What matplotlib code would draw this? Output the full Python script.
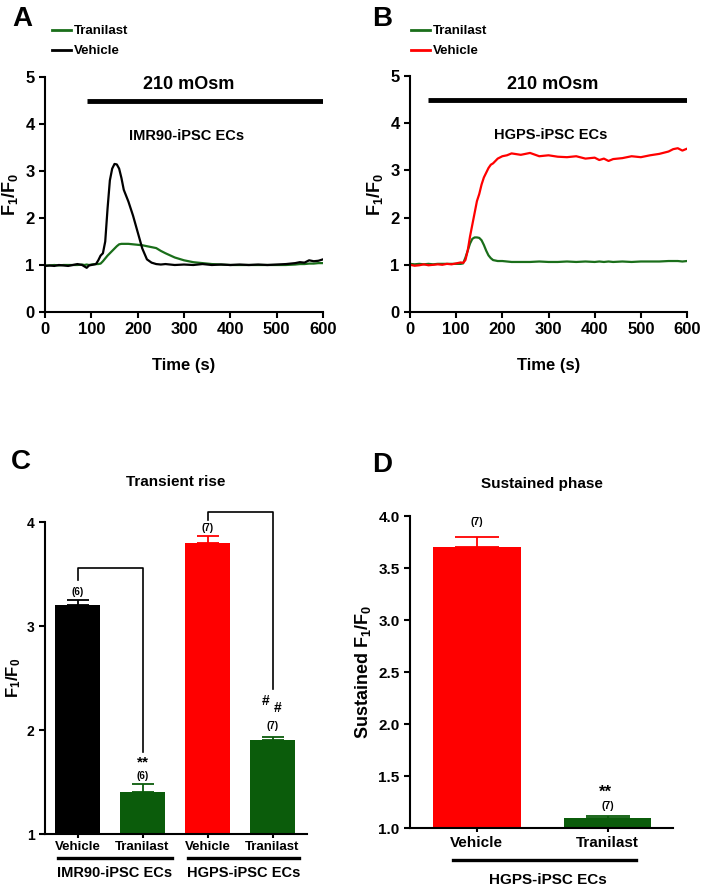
import matplotlib
matplotlib.use("Agg")
import matplotlib.pyplot as plt
import numpy as np

plt.rcParams["font.family"] = ["Liberation Sans", "DejaVu Sans"]
plt.rcParams["font.weight"] = "bold"
plt.rcParams["axes.labelweight"] = "bold"
plt.rcParams["axes.titleweight"] = "bold"
plt.rcParams["mathtext.fontset"] = "custom"
plt.rcParams["mathtext.rm"] = "Liberation Sans:bold"
plt.rcParams["mathtext.bf"] = "Liberation Sans:bold"
plt.rcParams["mathtext.default"] = "bf"

GREEN = "#1a6e1a"
DKGREEN = "#0b5c0b"
RED = "#ff0000"

# ---------------- Panel A traces (IMR90-iPSC ECs) ----------------
time_a = [0, 10, 20, 30, 40, 50, 60, 70, 80, 85, 90, 95, 100, 110, 115, 120, 125, 130,
          135, 140, 145, 150, 155, 160, 165, 170, 180, 190, 200, 210, 220, 230, 240,
          250, 260, 280, 300, 320, 340, 360, 380, 400, 420, 440, 460, 480, 500, 520,
          540, 550, 560, 570, 580, 590, 600]
vehicle_a = [0.98, 0.99, 0.98, 1.0, 0.99, 0.98, 1.0, 1.02, 1.0, 0.97, 0.94, 0.99, 1.0,
             1.02, 1.1, 1.2, 1.25, 1.5, 2.2, 2.8, 3.05, 3.15, 3.14, 3.05, 2.85, 2.6,
             2.35, 2.05, 1.7, 1.35, 1.12, 1.05, 1.02, 1.01, 1.02, 1.0, 1.01, 1.0, 1.02,
             1.0, 1.01, 1.0, 1.01, 1.0, 1.01, 1.0, 1.01, 1.02, 1.04, 1.06, 1.05, 1.1,
             1.08, 1.09, 1.12]
tranilast_a = [0.99, 0.99, 1.0, 0.99, 1.0, 1.0, 1.0, 1.0, 1.01, 1.0, 1.01, 1.0, 1.01,
               1.02, 1.02, 1.03, 1.08, 1.14, 1.2, 1.25, 1.3, 1.35, 1.4, 1.44, 1.45,
               1.45, 1.45, 1.44, 1.43, 1.42, 1.4, 1.38, 1.36, 1.3, 1.25, 1.16, 1.1, 1.06,
               1.04, 1.02, 1.01, 1.0, 1.0, 1.0, 1.0, 1.0, 1.0, 1.0, 1.01, 1.02, 1.02,
               1.03, 1.03, 1.04, 1.04]

# ---------------- Panel B traces (HGPS-iPSC ECs) ----------------
time_b = [0, 10, 20, 30, 40, 50, 60, 70, 80, 90, 100, 110, 115, 120, 125, 130, 135,
          140, 145, 150, 155, 160, 165, 170, 175, 180, 190, 200, 210, 220, 240, 260,
          280, 300, 320, 340, 360, 380, 400, 410, 420, 430, 440, 460, 480, 500, 520,
          540, 560, 570, 580, 590, 600]
vehicle_b = [1.0, 0.98, 0.99, 1.01, 0.99, 1.0, 1.01, 1.0, 1.02, 1.01, 1.03, 1.05, 1.04,
             1.1, 1.3, 1.6, 1.85, 2.1, 2.35, 2.5, 2.7, 2.85, 2.95, 3.05, 3.12, 3.15,
             3.25, 3.3, 3.32, 3.36, 3.33, 3.37, 3.3, 3.32, 3.29, 3.28, 3.3, 3.25, 3.27,
             3.22, 3.25, 3.2, 3.24, 3.26, 3.3, 3.28, 3.32, 3.35, 3.4, 3.45, 3.47, 3.42,
             3.46]
tranilast_b = [1.02, 1.01, 1.02, 1.01, 1.02, 1.01, 1.02, 1.02, 1.02, 1.02, 1.02, 1.02,
               1.03, 1.15, 1.3, 1.45, 1.55, 1.58, 1.58, 1.57, 1.52, 1.42, 1.3, 1.2,
               1.14, 1.1, 1.08, 1.08, 1.07, 1.06, 1.06, 1.06, 1.07, 1.06, 1.06, 1.07,
               1.06, 1.07, 1.06, 1.07, 1.06, 1.07, 1.06, 1.07, 1.06, 1.07, 1.07, 1.07,
               1.08, 1.08, 1.08, 1.07, 1.08]

# ---------------- Panel C bars ----------------
c_labels = ["Vehicle", "Tranilast", "Vehicle", "Tranilast"]
c_values = [3.2, 1.4, 3.8, 1.9]
c_errors = [0.05, 0.08, 0.07, 0.03]
c_n = ["(6)", "(6)", "(7)", "(7)"]
c_groups = ["IMR90-iPSC ECs", "HGPS-iPSC ECs"]

# ---------------- Panel D bars ----------------
d_labels = ["Vehicle", "Tranilast"]
d_values = [3.7, 1.1]
d_errors = [0.1, 0.02]
d_n = ["(7)", "(7)"]

W, H = 705, 889
fig = plt.figure(figsize=(W / 100, H / 100), dpi=100)


def px(x, y):
    # pixel position (from top-left) -> figure fraction
    return x / W, 1 - y / H


def style_axes(ax, lw=1.5):
    for s in ["top", "right"]:
        ax.spines[s].set_visible(False)
    for s in ["left", "bottom"]:
        ax.spines[s].set_linewidth(lw)
    ax.tick_params(direction="out", width=lw, length=4)


def trace_panel(rect, t, veh, tra, veh_color, cell, bar_start, leg_x):
    ax = fig.add_axes(rect)
    ax.plot(t, tra, color=GREEN, lw=1.6, label="Tranilast")
    ax.plot(t, veh, color=veh_color, lw=1.6, label="Vehicle")
    ax.set_xlim(0, 600)
    ax.set_ylim(0, 5)
    ax.set_xticks(range(0, 601, 100))
    ax.set_yticks(range(0, 6))
    style_axes(ax)
    ax.tick_params(labelsize=12)
    ax.set_xlabel("Time (s)", fontsize=12, labelpad=15)
    ax.set_ylabel("F$_1$/F$_0$", fontsize=13, labelpad=4)
    ax.plot([bar_start, 600], [4.5, 4.5], color="black", lw=3.5, solid_capstyle="butt")
    ax.text(310, 4.83, "210 mOsm", ha="center", va="center", fontsize=13)
    ax.text(305, 3.75, cell, ha="center", va="center", fontsize=10.5)
    leg = ax.legend(loc="upper left", bbox_to_anchor=px(leg_x, 25),
                    bbox_transform=fig.transFigure, frameon=False,
                    handlelength=1.45, handletextpad=0.2, labelspacing=0.6,
                    borderpad=0, borderaxespad=0, prop={"size": 9.5, "weight": "bold"})
    for line in leg.get_lines():
        line.set_linewidth(2)
    return ax


trace_panel([45 / W, 1 - 312 / H, 278 / W, 235 / H], time_a, vehicle_a, tranilast_a,
            "black", "IMR90-iPSC ECs", 90, 52)
trace_panel([410 / W, 1 - 312 / H, 277 / W, 236 / H], time_b, vehicle_b, tranilast_b,
            RED, "HGPS-iPSC ECs", 40, 411)

# ---------------- Panel C ----------------
axc = fig.add_axes([45 / W, 1 - 834 / H, 262 / W, 312 / H])
xc = np.arange(len(c_values))
c_colors = ["black", DKGREEN, RED, DKGREEN]
axc.bar(xc, np.array(c_values) - 1, bottom=1, width=0.69, color=c_colors)
for x, v, e, col in zip(xc, c_values, c_errors, c_colors):
    axc.errorbar(x, v, yerr=[[0], [e]], color=col, capsize=8, capthick=1.3, lw=1.3)
axc.set_xlim(-0.5, 3.53)
axc.set_ylim(1, 4)
axc.set_yticks([1, 2, 3, 4])
style_axes(axc, lw=1.5)
axc.set_xticks(xc)
axc.set_xticklabels(c_labels, fontsize=9.5)
axc.tick_params(axis="y", labelsize=10)
axc.tick_params(axis="x", length=3, pad=2)
axc.set_ylabel("F$_1$/F$_0$", fontsize=12, labelpad=3)
axc.set_title("Transient rise", fontsize=11, pad=26)
n_y = [3.33, 1.56, 3.94, 2.04]
for x, t, y in zip(xc, c_n, n_y):
    axc.text(x, y, t, ha="center", va="center", fontsize=7)
# significance brackets
axc.plot([0, 0, 1, 1], [3.44, 3.56, 3.56, 1.79], color="black", lw=1.2, clip_on=False)
axc.plot([2, 2, 3, 3], [4.02, 4.1, 4.1, 2.39], color="black", lw=1.2, clip_on=False)
axc.text(1, 1.69, "**", ha="center", va="center", fontsize=11)
axc.text(2.9, 2.28, "#", ha="center", va="center", fontsize=10)
axc.text(3.08, 2.21, "#", ha="center", va="center", fontsize=10)
# group underlines and labels
for (x0, x1), g in zip([(-0.3, 1.45), (1.7, 3.4)], c_groups):
    axc.plot([x0, x1], [0.77, 0.77], color="black", lw=2.4, clip_on=False)
    axc.text((x0 + x1) / 2, 0.625, g, ha="center", va="center", fontsize=10.5,
             clip_on=False)

# ---------------- Panel D ----------------
axd = fig.add_axes([410 / W, 1 - 828 / H, 263 / W, 312 / H])
xd = np.arange(len(d_values))
d_colors = [RED, DKGREEN]
axd.bar(xd, np.array(d_values) - 1, bottom=1, width=0.67, color=d_colors)
for x, v, e, col in zip(xd, d_values, d_errors, d_colors):
    axd.errorbar(x, v, yerr=[[0], [e]], color=col, capsize=16, capthick=1.3, lw=1.3)
d_ticks = np.arange(1.0, 4.01, 0.5)
axd.set_xlim(-0.51, 1.5)
axd.set_ylim(1, 4)
axd.set_yticks(d_ticks)
axd.set_yticklabels([f"{v:.1f}" for v in d_ticks])
style_axes(axd, lw=1.5)
axd.set_xticks(xd)
axd.set_xticklabels(d_labels, fontsize=11)
axd.tick_params(axis="y", labelsize=11)
axd.tick_params(axis="x", length=3, pad=3)
axd.set_ylabel("Sustained F$_1$/F$_0$", fontsize=13, labelpad=4)
axd.set_title("Sustained phase", fontsize=11, pad=20)
axd.text(0, 3.94, d_n[0], ha="center", va="center", fontsize=7.5)
axd.text(1, 1.21, d_n[1], ha="center", va="center", fontsize=7.5)
axd.text(0.98, 1.34, "**", ha="center", va="center", fontsize=12)
axd.plot([-0.18, 1.22], [0.69, 0.69], color="black", lw=2.4, clip_on=False)
axd.text(0.54, 0.5, "HGPS-iPSC ECs", ha="center", va="center", fontsize=11,
         clip_on=False)

# panel letters
for letter, (x, y) in zip("ABCD", [(22, 19), (382, 19), (21, 462), (382, 465)]):
    fig.text(*px(x, y), letter, fontsize=20, ha="center", va="center")

fig.savefig("out.png", dpi=100)
